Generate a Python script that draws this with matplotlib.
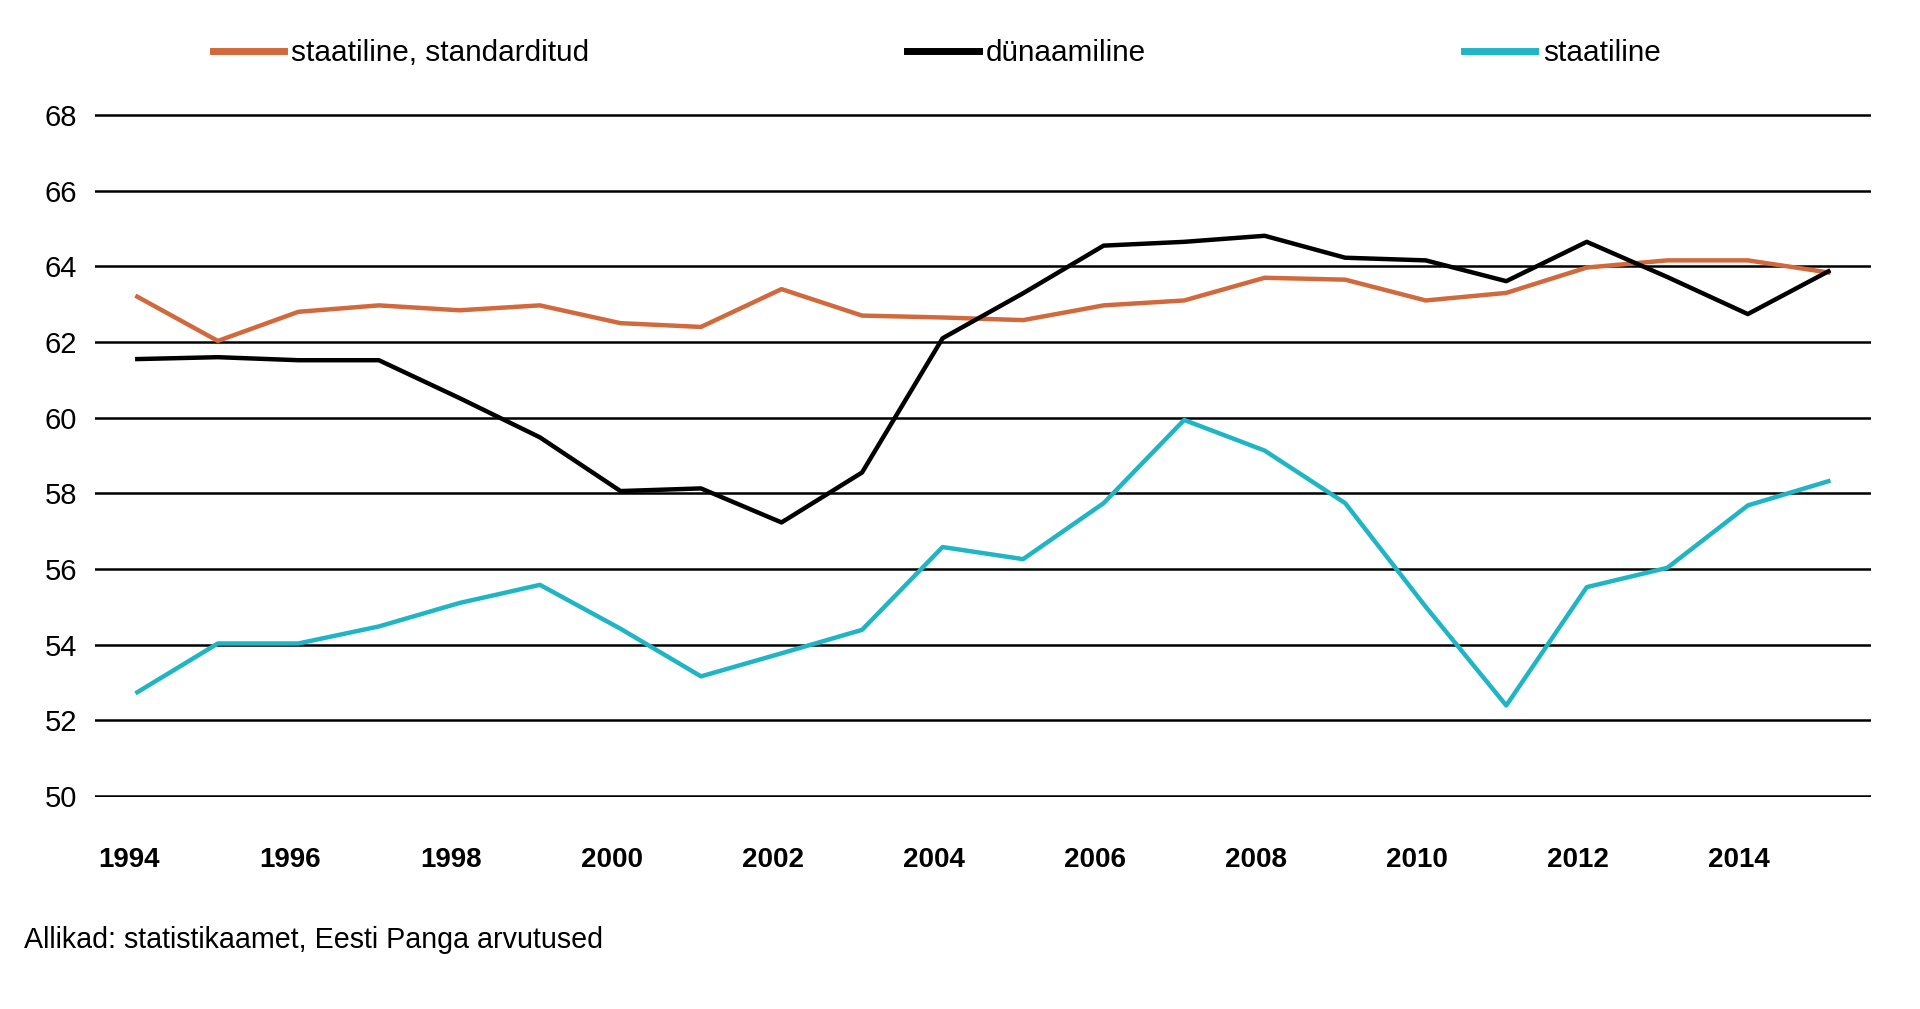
import numpy as np
import matplotlib
matplotlib.use("Agg")
import matplotlib.pyplot as plt
import matplotlib.transforms as mtransforms

plt.rcParams['font.family'] = ['Liberation Sans', 'DejaVu Sans']

# Andmed
aastad = np.arange(1994, 2016)
staat_std = [63.2, 62.03, 62.8, 62.97, 62.84, 62.97, 62.5, 62.4, 63.4, 62.7, 62.65,
             62.58, 62.97, 63.1, 63.7, 63.65, 63.1, 63.3, 63.97, 64.16, 64.16, 63.84]
dunaamiline = [61.55, 61.6, 61.52, 61.52, 60.52, 59.48, 58.06, 58.13, 57.23, 58.55, 62.1,
               63.29, 64.55, 64.65, 64.81, 64.23, 64.16, 63.61, 64.65, 63.72, 62.74, 63.87]
staatiline = [52.74, 54.03, 54.03, 54.48, 55.1, 55.58, 54.42, 53.16, 53.77, 54.39, 56.58,
              56.26, 57.74, 59.94, 59.13, 57.74, 55.0, 52.39, 55.52, 56.03, 57.68, 58.32]

y_ticks = np.arange(50, 69, 2)
x_ticks = np.arange(1994, 2015, 2)

fig = plt.figure(figsize=(19.2, 10.09), dpi=100)
ax = fig.add_axes([0.0497, 0.2101, 0.9248, 0.6769])

ax.plot(aastad, staat_std, color='#D2693C', lw=3.2, label='staatiline, standarditud')
ax.plot(aastad, dunaamiline, color='black', lw=3.2, label='dünaamiline')
ax.plot(aastad, staatiline, color='#1FB5C4', lw=3.2, label='staatiline')

ax.set_xlim(1993.48, 2015.53)
ax.set_ylim(49.97, 68.03)
ax.set_yticks(y_ticks)
ax.set_xticks(x_ticks)
ax.set_xticklabels([str(a) for a in x_ticks], fontsize=20, fontweight='bold')
ax.set_yticklabels([str(v) for v in y_ticks], fontsize=21)
ax.tick_params(axis='x', length=0, pad=36)
ax.tick_params(axis='y', length=0, pad=13)

# sildid veidi vasakule
nihe = mtransforms.ScaledTranslation(-0.085, 0, fig.dpi_scale_trans)
for lbl in ax.get_xticklabels():
    lbl.set_transform(lbl.get_transform() + nihe)

ax.grid(axis='y', color='black', lw=1.8)
ax.set_axisbelow(True)
for s in ax.spines.values():
    s.set_visible(False)

leg = fig.legend(loc='center left', bbox_to_anchor=(0.1045, 0.947, 0.7665, 0),
                 ncol=3, mode='expand', frameon=False, fontsize=21.4,
                 handlelength=2.4, handletextpad=0.25, borderaxespad=0)
for h in leg.get_lines():
    h.set_linewidth(5)

fig.text(0.0125, 0.068, 'Allikad: statistikaamet, Eesti Panga arvutused',
         fontsize=20.6, va='center', ha='left')

plt.savefig("out.png", dpi=100)
